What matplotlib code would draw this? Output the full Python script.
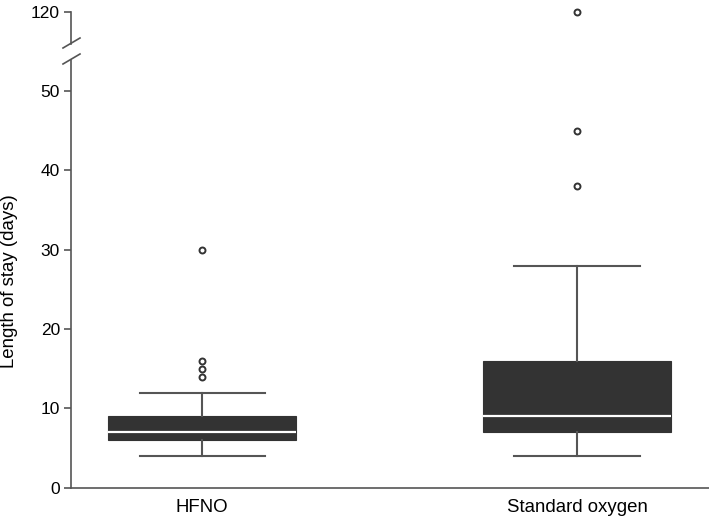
import matplotlib
matplotlib.use("Agg")
import matplotlib.pyplot as plt
from matplotlib.lines import Line2D

plt.rcParams['font.family'] = ['Liberation Sans', 'DejaVu Sans']

categories = ["HFNO", "Standard oxygen"]
whislo = [4, 4]
q1 = [6, 7]
med = [7, 9]
q3 = [9, 16]
whishi = [12, 28]
fliers = [[14, 15, 16, 30], [38, 45, 120]]
yticks_low = [0, 10, 20, 30, 40, 50]
yticks_high = [120]
ylabel = "Length of stay (days)"

W, H = 709, 520
fig = plt.figure(figsize=(W / 100, H / 100), dpi=100)

left = 71 / W
y0 = 487.7
px_per_unit = 7.93
low_top_px = 60
ax = fig.add_axes([left, 1 - y0 / H, 1 - left, (y0 - low_top_px) / H])
axu = fig.add_axes([left, 1 - 44 / H, 1 - left, (44 - 12) / H])

positions = [1, 2]
stats = []
for i, c in enumerate(categories):
    stats.append(dict(label=c, whislo=whislo[i], q1=q1[i], med=med[i], q3=q3[i],
                      whishi=whishi[i], fliers=fliers[i]))

box_col = '#333333'
line_col = '#555555'
for a in (ax, axu):
    a.bxp(stats, positions=positions, widths=0.5, capwidths=0.334, patch_artist=True,
          showfliers=True,
          boxprops=dict(facecolor=box_col, edgecolor=box_col, linewidth=0.8),
          medianprops=dict(color='white', linewidth=1.6),
          whiskerprops=dict(color=line_col, linewidth=1.5),
          capprops=dict(color=line_col, linewidth=1.5),
          flierprops=dict(marker='o', markersize=4.3, markerfacecolor='white',
                          markeredgecolor='#333333', markeredgewidth=1.4))
    a.set_xlim(0.65, 2.352)
    for s in ('top', 'right'):
        a.spines[s].set_visible(False)
    a.spines['left'].set_color(line_col)
    a.spines['left'].set_linewidth(1.2)
    a.tick_params(axis='y', direction='out', length=5, width=1.2, color=line_col,
                  labelsize=12.5, pad=3)

for art in axu.get_children():
    if isinstance(art, Line2D):
        art.set_clip_on(False)

ax.set_ylim(0, (y0 - low_top_px) / px_per_unit)
ax.set_yticks(yticks_low)
ax.spines['bottom'].set_color(line_col)
ax.spines['bottom'].set_linewidth(1.2)
ax.tick_params(axis='x', length=0, labelsize=13.4, pad=8)
ax.set_xticks(positions)
ax.set_xticklabels(categories)
ax.set_ylabel(ylabel, fontsize=13.4)
ax.yaxis.set_label_coords((18 - 71) / 638, (y0 - 281) / (y0 - low_top_px))

axu.set_ylim(116, 120)
axu.set_yticks(yticks_high)
axu.spines['bottom'].set_visible(False)
axu.set_xticks([])

# axis break marks
for (xa, ya, xb, yb) in [(63, 48, 80, 38), (63, 64, 80, 54)]:
    fig.add_artist(Line2D([xa / W, xb / W], [1 - ya / H, 1 - yb / H],
                          color=line_col, linewidth=1.2, transform=fig.transFigure))

fig.savefig("out.png", dpi=100)
